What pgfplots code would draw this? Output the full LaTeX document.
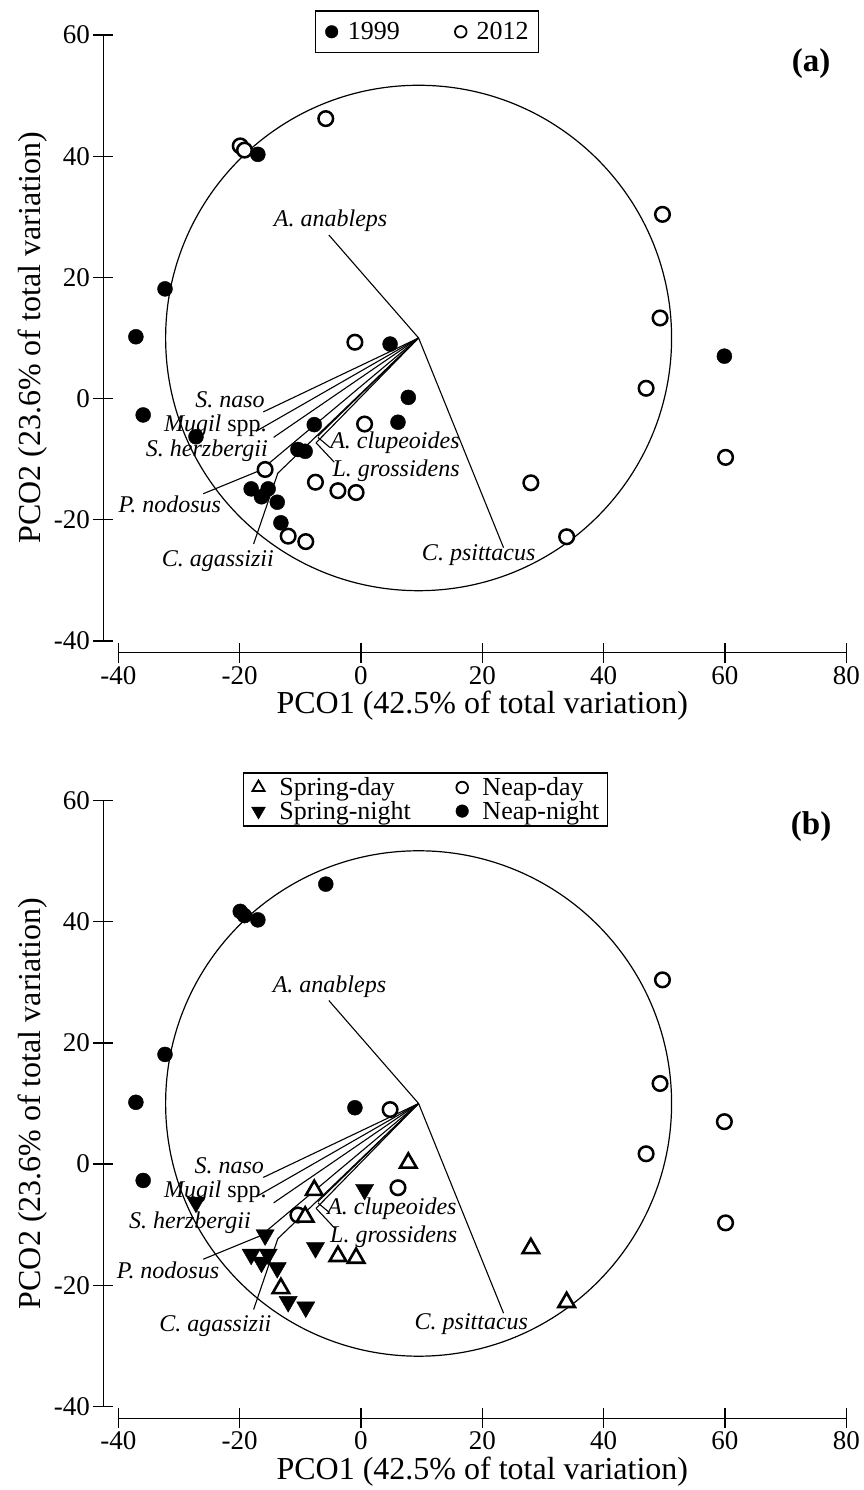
\documentclass[border=0pt]{standalone}
\usepackage{fontspec}
\setmainfont{Liberation Serif}
\usepackage{pgfplots}
\pgfplotsset{compat=1.18}
\pgfplotstableread{
x y
-17.0 40.3
-32.3 18.1
-37.1 10.2
4.8 9.0
59.9 7.0
7.8 0.2
-35.9 -2.7
6.1 -3.9
-7.7 -4.3
-27.2 -6.3
-10.4 -8.4
-9.2 -8.7
-18.1 -14.9
-15.3 -14.9
-16.4 -16.2
-13.8 -17.1
-13.2 -20.5
}\yearA
\pgfplotstableread{
x y
-5.8 46.2
-19.9 41.7
-19.2 41.0
49.7 30.4
49.3 13.3
-1.0 9.3
47.0 1.7
0.6 -4.2
60.1 -9.7
-15.8 -11.7
-7.5 -13.8
28.0 -13.9
-3.8 -15.2
-0.8 -15.5
33.9 -22.8
-12.0 -22.7
-9.1 -23.6
}\yearB
\pgfplotstableread{
x y
-17.0 40.3
-5.8 46.2
-19.9 41.7
-19.2 41.0
-32.3 18.1
-37.1 10.2
-1.0 9.3
-35.9 -2.7
}\neapnight
\pgfplotstableread{
x y
49.7 30.4
49.3 13.3
4.8 9.0
59.9 7.0
47.0 1.7
6.1 -3.9
60.1 -9.7
-10.4 -8.4
}\neapday
\pgfplotstableread{
x y
7.8 0.2
-7.7 -4.3
-9.2 -8.7
-3.8 -15.2
-0.8 -15.5
28.0 -13.9
-13.2 -20.5
33.9 -22.8
}\springday
\pgfplotstableread{
x y
-27.2 -6.3
0.6 -4.2
-15.8 -11.7
-7.5 -13.8
-18.1 -14.9
-15.3 -14.9
-16.4 -16.2
-13.8 -17.1
-12.0 -22.7
-9.1 -23.6
}\springnight
\newcommand{\vectors}{%
  \draw[line width=1.2pt] (axis cs:9.5,10) ellipse [x radius=41.7, y radius=41.7];
  \addplot[vec] coordinates {(9.5,10) (-5.3,27.0)};
  \addplot[vec] coordinates {(9.5,10) (23.5,-24.6)};
  \addplot[vec] coordinates {(9.5,10) (-16.1,-2.2)};
  \addplot[vec] coordinates {(9.5,10) (-17.3,-5.4)};
  \addplot[vec] coordinates {(9.5,10) (-14.4,-6.4)};
  \addplot[vec] coordinates {(9.5,10) (-16.5,-11.8)};
  \addplot[vec] coordinates {(9.5,10) (-13.7,-12.3)};
  \addplot[vec] coordinates {(9.5,10) (-7.1,-6.2)};
  \addplot[vec] coordinates {(9.5,10) (-7.4,-7.3)};
  \addplot[vec] coordinates {(-16.5,-11.8) (-26.0,-15.7)};
  \addplot[vec] coordinates {(-13.7,-12.3) (-17.7,-24.0)};
  \addplot[vec] coordinates {(-7.1,-6.4) (-5.2,-8.0)};
  \addplot[vec] coordinates {(-7.4,-7.3) (-4.4,-10.5)};
}
\tikzset{
  sp/.style={font=\fontsize{24}{26}\selectfont, inner sep=0pt},
}
\pgfplotsset{
  vec/.style={black, line width=1.1pt, forget plot, mark=none},
}
\begin{document}
\begin{tikzpicture}[x=1pt,y=1pt]
\useasboundingbox (0,0) rectangle (864,1490);
\pgfplotsset{
  pcoaxis/.style={
    scale only axis, width=728pt, height=606pt,
    xmin=-40, xmax=80, ymin=-40, ymax=60,
    axis x line*=bottom, axis y line*=left,
    axis x line shift=11.7pt, axis y line shift=15pt,
    axis line style={-, line width=1.3pt},
    xtick={-40,-20,0,20,40,60,80}, xticklabels={-40,-20,0,20,40,60,80},
    ytick={-40,-20,0,20,40,60}, yticklabels={-40,-20,0,20,40,60},
    tick align=center, major tick length=20pt,
    tick style={line width=1.3pt, black},
    ticklabel style={font=\fontsize{27}{30}\selectfont},
    xlabel={PCO1 (42.5\% of total variation)},
    ylabel={PCO2 (23.6\% of total variation)},
    label style={font=\fontsize{32}{36}\selectfont},
    clip=false,
    legend cell align=left,
    legend image code/.code={\draw[mark repeat=1,mark phase=1,##1] plot coordinates {(0pt,0pt)};},
  }
}
% ---------- panel (a)
\begin{axis}[pcoaxis, at={(118.3pt,849pt)}, anchor=south west,
  legend columns=2,
  legend style={at={(axis description cs:0.424,1.041)}, anchor=north, draw=black, line width=1.5pt,
    font=\fontsize{26}{28}\selectfont, nodes={inner sep=0pt},
    /tikz/every odd column/.append style={column sep=10pt},
    /tikz/every even column/.append style={column sep=55pt},
    inner xsep=10pt, inner ysep=11.5pt}]
\vectors
\addplot[only marks, mark=*, mark size=7.3pt, mark options={fill=white, draw=black, line width=2.5pt}, forget plot] table {\yearB};
\addplot[only marks, mark=*, mark size=7.5pt, black, forget plot] table {\yearA};
\addlegendimage{only marks, mark=*, mark size=6.3pt, black, line width=0.4pt}
\addlegendentry{1999}
\addlegendimage{only marks, mark=*, mark size=5.8pt, mark options={fill=white, draw=black, line width=1.8pt}}
\addlegendentry{2012}
\node[sp] at (axis cs:-5.0,29.4) {\textit{A. anableps}};
\node[sp] at (axis cs:19.4,-25.8) {\textit{C. psittacus}};
\node[sp] at (axis cs:-21.6,-0.2) {\textit{S. naso}};
\node[sp] at (axis cs:-24.0,-4.4) {\textit{Mugil} spp.};
\node[sp] at (axis cs:-25.4,-8.6) {\textit{S. herzbergii}};
\node[sp] at (axis cs:-31.5,-17.5) {\textit{P. nodosus}};
\node[sp] at (axis cs:-23.6,-26.8) {\textit{C. agassizii}};
\node[sp] at (axis cs:5.6,-7.3) {\textit{A. clupeoides}};
\node[sp] at (axis cs:5.8,-11.9) {\textit{L. grossidens}};
\node[font=\fontsize{33}{36}\selectfont\bfseries] at (axis cs:74.2,55.3) {(a)};
\end{axis}
% ---------- panel (b)
\begin{axis}[pcoaxis, at={(118.3pt,83.5pt)}, anchor=south west,
  legend columns=2,
  legend style={at={(axis description cs:0.422,1.047)}, anchor=north, draw=black, line width=1.5pt,
    font=\fontsize{26}{28}\selectfont, nodes={inner sep=0pt},
    /tikz/every odd column/.append style={column sep=14pt},
    /tikz/every even column/.append style={column sep=45pt},
    row sep=4pt, inner xsep=8pt, inner ysep=5pt}]
\vectors
\addplot[only marks, mark=*, mark size=7.3pt, mark options={fill=white, draw=black, line width=2.5pt}, forget plot] table {\neapday};
\addplot[only marks, mark=*, mark size=7.5pt, black, forget plot] table {\neapnight};
\addplot[only marks, mark=triangle*, mark size=9.5pt, mark options={fill=white, draw=black, line width=2.6pt}, forget plot] table {\springday};
\addplot[only marks, mark=triangle*, mark size=10.5pt, mark options={rotate=180, fill=black, draw=black, line width=0.4pt}, forget plot] table {\springnight};
\addlegendimage{only marks, mark=triangle*, mark size=7pt, mark options={fill=white, draw=black, line width=1.8pt}}
\addlegendentry{Spring-day}
\addlegendimage{only marks, mark=*, mark size=5.8pt, mark options={fill=white, draw=black, line width=1.8pt}}
\addlegendentry{Neap-day}
\addlegendimage{only marks, mark=triangle*, mark size=8pt, mark options={rotate=180, fill=black, draw=black, line width=0.4pt}}
\addlegendentry{Spring-night}
\addlegendimage{only marks, mark=*, mark size=6.3pt, black, line width=0.4pt}
\addlegendentry{Neap-night}
\node[sp] at (axis cs:-5.2,29.3) {\textit{A. anableps}};
\node[sp] at (axis cs:18.2,-26.4) {\textit{C. psittacus}};
\node[sp] at (axis cs:-21.7,-0.3) {\textit{S. naso}};
\node[sp] at (axis cs:-24.0,-4.5) {\textit{Mugil} spp.};
\node[sp] at (axis cs:-28.2,-9.6) {\textit{S. herzbergii}};
\node[sp] at (axis cs:-31.8,-17.6) {\textit{P. nodosus}};
\node[sp] at (axis cs:-24.0,-26.7) {\textit{C. agassizii}};
\node[sp] at (axis cs:5.1,-7.4) {\textit{A. clupeoides}};
\node[sp] at (axis cs:5.4,-12.0) {\textit{L. grossidens}};
\node[font=\fontsize{33}{36}\selectfont\bfseries] at (axis cs:74.2,55.7) {(b)};
\end{axis}
\end{tikzpicture}
\end{document}
